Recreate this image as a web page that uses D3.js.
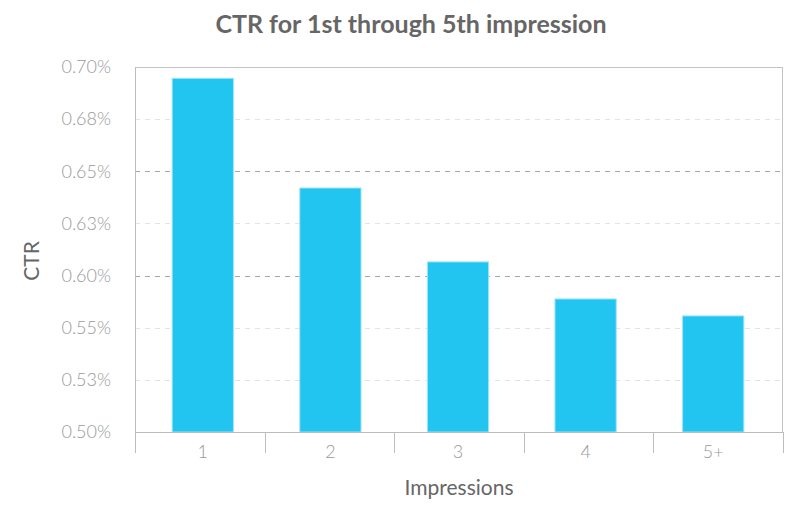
<!DOCTYPE html>
<html>
<head>
<meta charset="utf-8">
<script src="https://cdn.jsdelivr.net/npm/d3@7"></script>
<style>
  body { margin: 0; background: #fff; }
  text { font-family: Lato, "Open Sans", sans-serif; }
</style>
</head>
<body>
<script>
var width = 800;
var height = 512;
var margin = {top: 67, right: 17, bottom: 80, left: 135};
var w = width - margin.left - margin.right;
var h = height - margin.top - margin.bottom;

// data
var impressions = ["1", "2", "3", "4", "5+"];
var ctr = [0.6938, 0.6337, 0.5932, 0.5729, 0.5636];
var yTickLabels = ["0.50%", "0.53%", "0.55%", "0.60%", "0.63%", "0.65%", "0.68%", "0.70%"];
var darkGrid = ["0.60%", "0.65%"];
var yMin = 0.5, yMax = 0.7;

var svg = d3.select("body").append("svg")
    .attr("width", width)
    .attr("height", height);

var chart = svg.append("g")
    .attr("transform", "translate(" + margin.left + "," + margin.top + ")");

var x = d3.scaleBand()
    .domain(impressions)
    .range([0, w]);

// bars sit a little inside the tick bands
var xBar = d3.scaleBand()
    .domain(impressions)
    .range([4, w - 6])
    .paddingInner(0.52)
    .paddingOuter(0.26);

var y = d3.scaleLinear()
    .domain([yMin, yMax])
    .range([h, 0]);

var tickVals = yTickLabels.map(function(d, i) {
  return yMin + i * (yMax - yMin) / (yTickLabels.length - 1);
});

//grid lines
chart.selectAll(".grid")
  .data(tickVals.slice(1, -1))
  .enter().append("line")
    .attr("class", "grid")
    .attr("x1", 0)
    .attr("x2", w)
    .attr("y1", function(d) { return Math.round(y(d)) + 0.5; })
    .attr("y2", function(d) { return Math.round(y(d)) + 0.5; })
    .style("stroke", function(d, i) {
      return darkGrid.indexOf(yTickLabels[i + 1]) >= 0 ? "#a8a8a8" : "#e3e3e3";
    })
    .style("stroke-width", 1)
    .style("stroke-dasharray", "5,5");

//frame top + right
chart.append("line")
  .attr("x1", 0).attr("x2", w)
  .attr("y1", 0.5).attr("y2", 0.5)
  .style("stroke", "#c4c4c4");
chart.append("line")
  .attr("x1", w - 0.5).attr("x2", w - 0.5)
  .attr("y1", 0).attr("y2", h)
  .style("stroke", "#c4c4c4");

//bars
chart.selectAll(".bar")
  .data(ctr)
  .enter().append("rect")
    .attr("class", "bar")
    .attr("x", function(d, i) { return xBar(impressions[i]); })
    .attr("y", function(d) { return y(d); })
    .attr("width", xBar.bandwidth())
    .attr("height", function(d) { return h - y(d); })
    .style("fill", "#22c4f0")
    .style("stroke", "#9fe3f7")
    .style("stroke-width", 1);

//y axis
var yAxis = d3.axisLeft(y)
    .tickValues(tickVals)
    .tickSize(0)
    .tickPadding(24)
    .tickFormat(function(d, i) { return yTickLabels[i]; });

var gy = chart.append("g").call(yAxis);
gy.select(".domain").style("stroke", "#bdbdbd");
gy.selectAll("text")
    .style("font-family", "Lato")
    .style("font-size", "18px")
    .style("font-weight", 300)
    .style("fill", "#999999");

//x axis
var xAxis = d3.axisBottom(x)
    .tickSize(0)
    .tickPadding(13);

var gx = chart.append("g")
    .attr("transform", "translate(0," + h + ")")
    .call(xAxis);
gx.select(".domain").style("stroke", "#bdbdbd");
gx.selectAll(".tick text")
    .attr("x", function(d) { return xBar(d) + xBar.bandwidth() / 2 - x(d) - x.bandwidth() / 2; })
    .style("font-family", "Lato")
    .style("font-size", "18px")
    .style("font-weight", 300)
    .style("fill", "#999999");

//band separators under the axis
gx.selectAll(".sep")
  .data(d3.range(impressions.length + 1))
  .enter().append("line")
    .attr("class", "sep")
    .attr("x1", function(i) { return Math.round(i * x.step()) + 0.5; })
    .attr("x2", function(i) { return Math.round(i * x.step()) + 0.5; })
    .attr("y1", 0)
    .attr("y2", 21)
    .style("stroke", "#bdbdbd");

//titles
svg.append("text")
    .attr("x", 411)
    .attr("y", 33)
    .style("text-anchor", "middle")
    .style("font-size", "25px")
    .style("font-weight", 700)
    .style("fill", "#666")
    .text("CTR for 1st through 5th impression");

svg.append("text")
    .attr("transform", "translate(39,261) rotate(-90)")
    .style("text-anchor", "middle")
    .style("font-size", "21px")
    .style("fill", "#666")
    .text("CTR");

svg.append("text")
    .attr("x", 459)
    .attr("y", 495)
    .style("text-anchor", "middle")
    .style("font-size", "21px")
    .style("fill", "#666")
    .text("Impressions");
</script>
</body>
</html>
